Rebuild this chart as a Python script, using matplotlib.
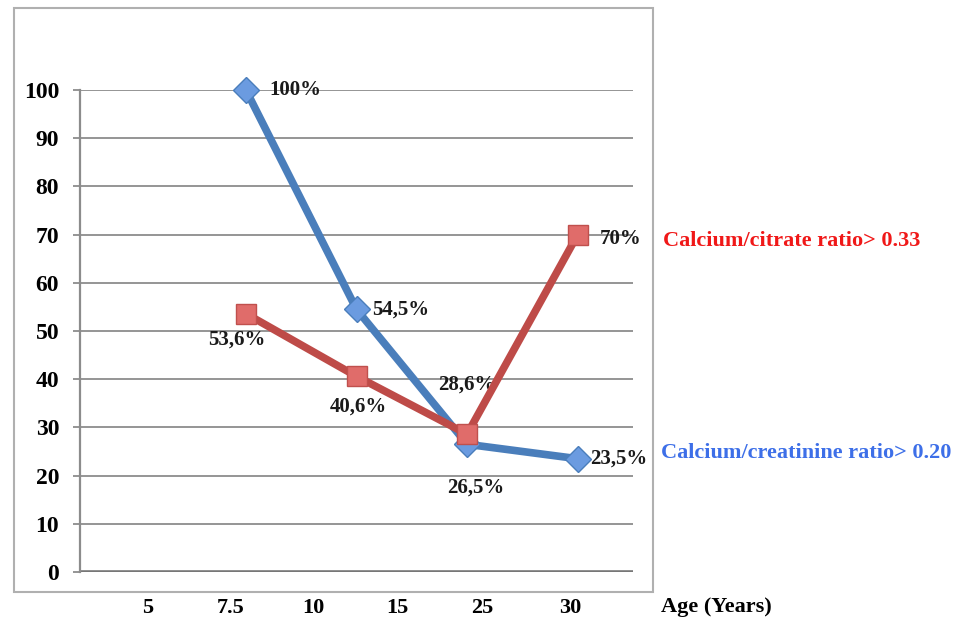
import matplotlib.pyplot as plt
from matplotlib.patches import Rectangle

# Data
categories = [0, 1, 2, 3]
creatinine = [100, 54.5, 26.5, 23.5]
citrate = [53.6, 40.6, 28.6, 70]
creatinine_labels = ['100%', '54,5%', '26,5%', '23,5%']
citrate_labels = ['53,6%', '40,6%', '28,6%', '70%']
age_labels = ['5', '7.5', '10', '15', '25', '30']
age_pos = [-0.89, -0.14, 0.61, 1.37, 2.14, 2.93]
y_ticks = [0, 10, 20, 30, 40, 50, 60, 70, 80, 90, 100]

BLUE = '#4a7ebb'
RED = '#be4b48'
FONT = 'Liberation Serif'

plt.rcParams['font.family'] = FONT
plt.rcParams['font.weight'] = 'bold'

fig = plt.figure(figsize=(9.63, 6.27), dpi=100)
W, H = 963, 627

# outer chart frame
fig.patches.append(Rectangle((14 / W, 1 - 592 / H), (653 - 14) / W, (592 - 8) / H,
                             transform=fig.transFigure, fill=False,
                             edgecolor='#b0b0b0', lw=1.5))

ax = fig.add_axes([80 / W, 1 - 572 / H, (633 - 80) / W, (572 - 90) / H])
ax.set_xlim(-1.5, 3.5)
ax.set_ylim(0, 100)

for y in y_ticks[1:]:
    ax.axhline(y, color='#8c8c8c', lw=1.3, zorder=1)
ax.axhline(0, color='#777777', lw=2.6, zorder=2)

for s in ['top', 'right', 'bottom']:
    ax.spines[s].set_visible(False)
ax.spines['left'].set_color('#8c8c8c')
ax.spines['left'].set_linewidth(1.6)

ax.set_yticks(y_ticks)
ax.set_yticklabels([str(v) for v in y_ticks], fontsize=17, fontweight='bold')
ax.tick_params(axis='y', length=5, color='#8c8c8c', width=1.3, pad=10)
ax.set_xticks([])

ax.plot(categories, creatinine, color=BLUE, lw=5.5, marker='D', ms=13,
        mfc='#6b9be0', mec='#4a7ebb', mew=1, zorder=4, clip_on=False,
        solid_joinstyle='round')
ax.plot(categories, citrate, color=RED, lw=5.5, marker='s', ms=15,
        mfc='#e06c6a', mec='#c0504d', mew=1, zorder=5, clip_on=False,
        solid_joinstyle='round')

lab = dict(fontsize=15, fontweight='bold', color='#1a1a1a')
offs_blue = [(17, 0, 'left'), (11, 0, 'left'), (6.5, -31, 'center'), (9, 0, 'left')]
offs_red = [(-6.5, -19, 'center'), (1, -22, 'center'), (0, 36, 'center'), (16, -3, 'left')]
for x, y, t, (dx, dy, ha) in zip(categories, creatinine, creatinine_labels, offs_blue):
    ax.annotate(t, (x, y), xytext=(dx, dy), textcoords='offset points',
                ha=ha, va='center', **lab)
for x, y, t, (dx, dy, ha) in zip(categories, citrate, citrate_labels, offs_red):
    ax.annotate(t, (x, y), xytext=(dx, dy), textcoords='offset points',
                ha=ha, va='center', **lab)

# age labels under the axis
for p, t in zip(age_pos, age_labels):
    ax.text(p, -7.5, t, ha='center', va='center', fontsize=16,
            fontweight='bold', clip_on=False)
fig.text(661 / W, 1 - 607 / H, 'Age (Years)', ha='left', va='center',
         fontsize=16, fontweight='bold')

fig.text(663 / W, 1 - 241 / H, 'Calcium/citrate ratio> 0.33', ha='left',
         va='center', fontsize=16, fontweight='bold', color='#f01818')
fig.text(661 / W, 1 - 453 / H, 'Calcium/creatinine ratio> 0.20', ha='left',
         va='center', fontsize=16, fontweight='bold', color='#3d6fe8')

fig.savefig('out.png', dpi=100)
